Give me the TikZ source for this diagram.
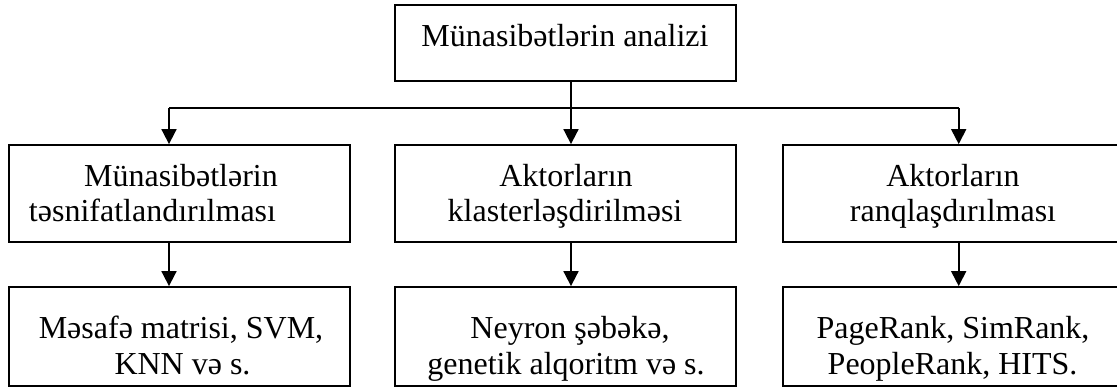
\documentclass[tikz,border=0pt]{standalone}
\usepackage{fontspec}
\setmainfont{Liberation Serif}
\usetikzlibrary{arrows.meta}
\begin{document}
\begin{tikzpicture}[x=1pt,y=-1pt,
  box/.style={draw, line width=1.8pt, inner sep=0pt, minimum width=341pt},
  lbl/.style={anchor=base, inner sep=0pt, font=\fontsize{32}{36}\selectfont},
  conn/.style={line width=1.8pt},
  arr/.style={line width=1.8pt, -{Triangle[width=15pt,length=15pt]}}]
\useasboundingbox (0,0) rectangle (1117,387);
\clip (0,0) rectangle (1117,387);
% boxes
\node[box, minimum height=76pt] (top) at (565.5,43) {};
\node[box, minimum height=97pt] (c1) at (179.5,193.5) {};
\node[box, minimum height=97pt] (c2) at (565.5,193.5) {};
\node[box, minimum height=97pt] (c3) at (953.5,193.5) {};
\node[box, minimum height=99pt] (b1) at (179.5,336.5) {};
\node[box, minimum height=99pt] (b2) at (565.5,336.5) {};
\node[box, minimum height=99pt] (b3) at (953.5,336.5) {};
% texts
\node[lbl] (t0) at (565,46.7) {Münasibətlərin analizi};
\node[lbl] (t1a) at (181,186.7) {Münasibətlərin};
\node[lbl] (t1b) at (152.5,221.7) {təsnifatlandırılması};
\node[lbl] (t2a) at (566,186.7) {Aktorların};
\node[lbl] (t2b) at (565,221.7) {klasterləşdirilməsi};
\node[lbl] (t3a) at (953,186.7) {Aktorların};
\node[lbl] (t3b) at (953,221.7) {ranqlaşdırılması};
\node[lbl] (u1a) at (181,338.3) {Məsafə matrisi, SVM,};
\node[lbl] (u1b) at (182.5,375) {KNN və s.};
\node[lbl] (u2a) at (570,338.3) {Neyron şəbəkə,};
\node[lbl] (u2b) at (566,375) {genetik alqoritm və s.};
\node[lbl] (u3a) at (953,338.3) {PageRank, SimRank,};
\node[lbl] (u3b) at (952.6,375) {PeopleRank, HITS.};
% connectors
\coordinate (hl) at (169,108);
\coordinate (hr) at (958.7,108);
\draw[conn] (hl) -- (hr);
\draw[arr] ([xshift=5.5pt]top.south) -- ([xshift=5.5pt]c2.north);
\draw[arr] (hl) -- (hl |- c1.north);
\draw[arr] (hr) -- (hr |- c3.north);
\draw[arr] ([xshift=-10.5pt]c1.south) -- ([xshift=-10.5pt]b1.north);
\draw[arr] ([xshift=5.5pt]c2.south) -- ([xshift=5.5pt]b2.north);
\draw[arr] ([xshift=5.2pt]c3.south) -- ([xshift=5.2pt]b3.north);
\end{tikzpicture}
\end{document}
